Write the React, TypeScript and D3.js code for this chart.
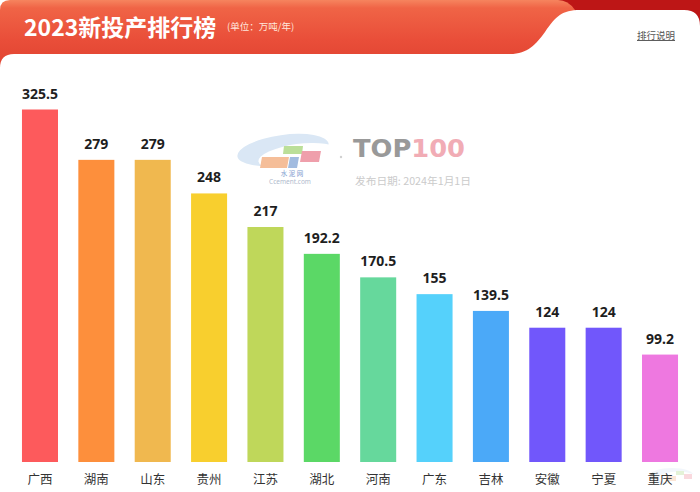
import React from "react";
import * as d3 from "d3";

const categories = ["广西", "湖南", "山东", "贵州", "江苏", "湖北", "河南", "广东", "吉林", "安徽", "宁夏", "重庆"];
const values = [325.5, 279, 279, 248, 217, 192.2, 170.5, 155, 139.5, 124, 124, 99.2];
const valueLabels = ["325.5", "279", "279", "248", "217", "192.2", "170.5", "155", "139.5", "124", "124", "99.2"];
const colors = ["#fd5a5c", "#fd8f3c", "#f0b84f", "#f8cf2e", "#bfd75a", "#5bd866", "#66d89c", "#55d1fb", "#4ba9f8", "#7157fb", "#7157fb", "#ee78e0"];
const title = "2023新投产排行榜";
const unit = "(单位：万吨/年)";
const linkText = "排行说明";
const dateText = "发布日期: 2024年1月1日";

const W = 700;
const H = 492;

export default function App() {
  const x = d3.scaleBand<string>().domain(categories).range([11.8, 688.2]).paddingInner(0.361).paddingOuter(0.1805);
  const y = d3.scaleLinear().domain([0, 325.5]).range([462, 109.5]);
  const cjk = "'Noto Sans CJK SC', 'Noto Sans', sans-serif";
  const num = "'Noto Sans', 'Noto Sans CJK SC', sans-serif";

  return (
    <svg width={W} height={H} viewBox={`0 0 ${W} ${H}`} style={{ position: "absolute", left: 0, top: 0, display: "block" }}>
      <defs>
        <linearGradient id="tabGrad" x1="0" y1="0" x2="0" y2="1">
          <stop offset="0" stopColor="#f6845e" />
          <stop offset="0.1" stopColor="#f06446" />
          <stop offset="0.5" stopColor="#e94e39" />
          <stop offset="1" stopColor="#dc3e2d" />
        </linearGradient>
      </defs>
      <rect x={0} y={0} width={W} height={H} fill="#ffffff" />
      {/* header */}
      <rect x={540} y={0} width={160} height={40} fill="#bd1616" />
      <path d="M0,10 Q0,0 10,0 L558,0 Q568,0 575,10 L575,80 L0,80 Z" fill="url(#tabGrad)" />
      <path
        d="M0,68 Q0,54 14,54 L510,54 C528,54 536,44 545,32 C556,16 562,10 580,10 L684,10 Q700,10 700,26 L700,492 L0,492 Z"
        fill="#ffffff"
      />
      <text x={24} y={36} fill="#ffffff" fontSize={23} fontWeight={700} fontFamily={cjk}>
        {title}
      </text>
      <text x={227} y={29.5} fill="#ffe6dc" fontSize={9.5} fontFamily={cjk}>
        {unit}
      </text>
      <text x={637} y={39} fill="#555555" fontSize={9.5} fontFamily={cjk} textDecoration="underline">
        {linkText}
      </text>

      {/* watermark */}
      <g opacity={0.9}>
        <ellipse cx={283} cy={150} rx={46} ry={15} fill="#d6e5f4" transform="rotate(-8 283 150)" />
        <ellipse cx={298} cy={156} rx={40} ry={12} fill="#ffffff" transform="rotate(-8 298 156)" />
        <path d="M262,157 L289,157 L287,168 L260,168 Z" fill="#f4b88e" />
        <path d="M284,146 L303,146 L302,154 L283,154 Z" fill="#b4dc8e" />
        <path d="M290,157 L299,157 L297,168 L288,168 Z" fill="#98b5dd" />
        <path d="M302,151 L321,151 L319,162 L300,162 Z" fill="#ee95a3" />
        <text x={292} y={176} fill="#6f8fc9" fontSize={6.5} fontFamily={cjk} textAnchor="middle">
          水 泥 网
        </text>
        <text x={290} y={184} fill="#a8b4c8" fontSize={6.5} fontFamily={num} textAnchor="middle">
          Ccement.com
        </text>
        <circle cx={341} cy={157} r={1.2} fill="#cccccc" />
        <text x={353} y={157} fontSize={25} fontWeight={900} fontFamily="'DejaVu Sans', sans-serif" textLength={112} lengthAdjust="spacingAndGlyphs">
          <tspan fill="#8e8e8e">TOP</tspan>
          <tspan fill="#f0a4ae">100</tspan>
        </text>
        <text x={355} y={185} fill="#c6c6c6" fontSize={10.5} fontFamily={cjk} textLength={116} lengthAdjust="spacingAndGlyphs">
          {dateText}
        </text>
      </g>
      {/* faint corner logo */}
      <g opacity={0.35}>
        <ellipse cx={672} cy={476} rx={22} ry={8} fill="#dbe8f5" />
        <ellipse cx={678} cy={478} rx={19} ry={6.5} fill="#ffffff" />
        <rect x={666} y={476} width={10} height={5} fill="#f4b88e" />
        <rect x={676} y={471} width={8} height={4} fill="#b4dc8e" />
        <rect x={684} y={474} width={8} height={5} fill="#ee95a3" />
      </g>

      {/* bars */}
      {categories.map((c, i) => {
        const bx = x(c)!;
        const by = y(values[i]);
        return (
          <g key={c}>
            <rect x={bx} y={by} width={x.bandwidth()} height={y(0) - by} fill={colors[i]} />
            <text
              x={bx + x.bandwidth() / 2}
              y={by - 11}
              textAnchor="middle"
              fontSize={14}
              fontWeight={700}
              fill="#1e1e1e"
              fontFamily={num}
            >
              {valueLabels[i]}
            </text>
            <text x={bx + x.bandwidth() / 2} y={484} textAnchor="middle" fontSize={12.5} fill="#333333" fontFamily={cjk}>
              {c}
            </text>
          </g>
        );
      })}
    </svg>
  );
}
